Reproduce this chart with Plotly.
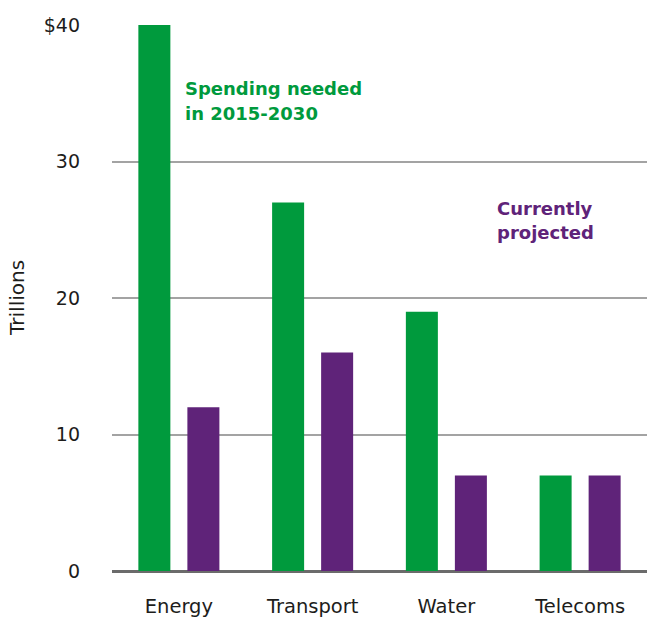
import plotly.graph_objects as go

categories = ["Energy", "Transport", "Water", "Telecoms"]
needed = [40, 27, 19, 7]
projected = [12, 16, 7, 7]
y_tickvals = [0, 10, 20, 30, 40]
y_ticktext = ["0", "10", "20", "30", "$40"]
y_title = "Trillions"

GREEN = "#009a3d"
PURPLE = "#5f2379"
TEXT = "#1d1d1b"
FONT = "DejaVu Sans"

fig = go.Figure()
fig.add_trace(go.Bar(x=categories, y=needed, name="Spending needed in 2015-2030",
                     marker=dict(color=GREEN, line=dict(width=0))))
fig.add_trace(go.Bar(x=categories, y=projected, name="Currently projected",
                     marker=dict(color=PURPLE, line=dict(width=0))))

label_font_g = dict(family=FONT, size=18, color=GREEN, weight="bold")
label_font_p = dict(family=FONT, size=18, color=PURPLE, weight="bold")
for txt, yv in [("Spending needed", 36.3), ("in 2015-2030", 34.42)]:
    fig.add_annotation(x=0.03, y=yv, xref="x", yref="y", xanchor="left", yanchor="top",
                       text=txt, showarrow=False, align="left", font=label_font_g)
for txt, yv in [("Currently", 27.5), ("projected", 25.74)]:
    fig.add_annotation(x=2.365, y=yv, xref="x", yref="y", xanchor="left", yanchor="top",
                       text=txt, showarrow=False, align="left", font=label_font_p)

# y-axis title placed as a rotated annotation for precise positioning
fig.add_annotation(x=-0.1776, y=0.5, xref="paper", yref="paper", xanchor="center",
                   yanchor="middle", text=y_title, textangle=-90, showarrow=False,
                   font=dict(family=FONT, size=20, color=TEXT))

fig.update_layout(
    width=647, height=617,
    margin=dict(l=112, r=0, t=25, b=46, autoexpand=False),
    plot_bgcolor="white", paper_bgcolor="white",
    barmode="group", bargap=0.267, bargroupgap=0.347,
    showlegend=False,
    font=dict(family=FONT, size=19, color=TEXT),
)
fig.update_xaxes(showgrid=False, showline=False, ticks="", ticklabelstandoff=21,
                 automargin=False,
                 tickfont=dict(family=FONT, size=19.5, color=TEXT))
fig.update_yaxes(range=[0, 40], tickvals=y_tickvals, ticktext=y_ticktext,
                 showgrid=True, gridcolor="#a3a3a3", gridwidth=1.6,
                 zeroline=True, zerolinecolor="#6b6b6b", zerolinewidth=2.6,
                 showline=False, ticks="", ticklabelstandoff=31, automargin=False,
                 tickfont=dict(family=FONT, size=19, color=TEXT))

fig.write_html("out.html", config={"displayModeBar": False},
               post_script="document.body.style.margin='0';document.body.style.overflow='hidden';")
